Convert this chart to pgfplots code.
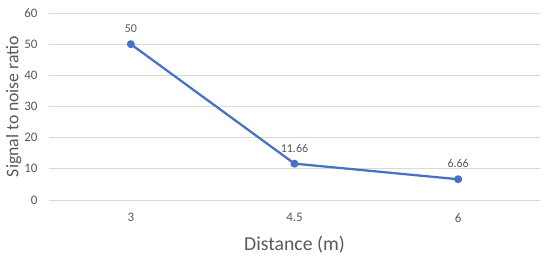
\documentclass[border=0pt]{standalone}
\usepackage{pgfplots}
\pgfplotsset{compat=1.18}
\usepackage{fontspec}
\setmainfont{Carlito}
\usetikzlibrary{calc}
\definecolor{xlblue}{HTML}{4472C4}
\definecolor{gridgray}{HTML}{D9D9D9}
\definecolor{txtgray}{HTML}{595959}

\begin{document}
\begin{tikzpicture}
\begin{axis}[
    scale only axis,
    width=491bp,
    height=187bp,
    xmin=-0.5, xmax=2.5,
    ymin=0, ymax=60,
    ytick={0,10,...,60},
    xtick={0,1,2},
    xticklabels={3,4.5,6},
    axis line style={draw=none},
    tick style={draw=none},
    ymajorgrids,
    grid style={gridgray, line width=0.75bp},
    ticklabel style={font=\fontsize{13bp}{15bp}\selectfont, text=txtgray},
    /pgf/number format/assume math mode=true,
    yticklabel style={xshift=-8bp},
    xticklabel style={yshift=-10bp},
    xlabel={Distance (m)},
    ylabel={Signal to noise ratio},
    xlabel style={font=\fontsize{19.7bp}{22bp}\selectfont, text=txtgray, yshift=-7bp},
    ylabel style={font=\fontsize{17.7bp}{20bp}\selectfont, text=txtgray, yshift=-4bp},
    clip=false,
    nodes near coords,
    point meta=explicit symbolic,
    nodes near coords style={font=\fontsize{12bp}{14bp}\selectfont, text=txtgray, anchor=south, yshift=7bp},
]
\addplot[color=xlblue, line width=2.25bp, mark=*, mark size=2.8bp, mark options={fill=xlblue}]
coordinates {
    (0, 50) [50]
    (1, 11.66) [11.66]
    (2, 6.66) [6.66]
};
\end{axis}
\path[use as bounding box] ($(current axis.south west)+(-49bp,-58bp)$) rectangle ($(current axis.north east)+(10bp,13bp)$);
\end{tikzpicture}
\end{document}
